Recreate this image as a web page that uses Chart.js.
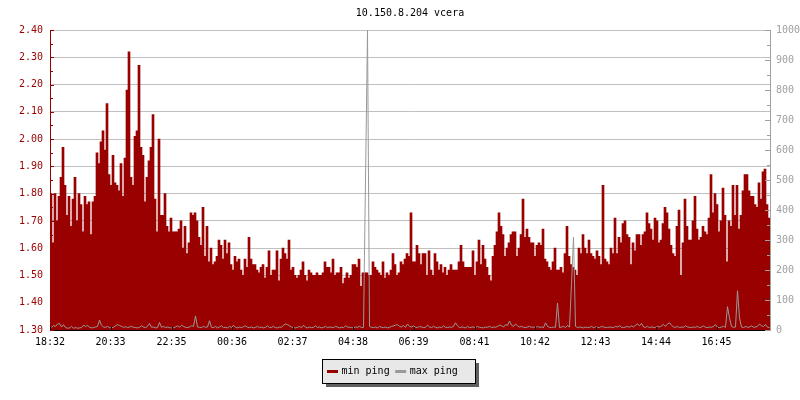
<!DOCTYPE html>
<html>
<head>
<meta charset="utf-8">
<title>10.150.8.204 vcera</title>
<script src="https://cdn.jsdelivr.net/npm/chart.js@4/dist/chart.umd.min.js"></script>
<style>
  html, body { margin: 0; padding: 0; background: #fff; }
  #wrap { width: 800px; height: 400px; }
</style>
</head>
<body>
<div id="wrap"><canvas id="myChart" width="800" height="400"></canvas></div>
<script>
var chartTitle = "10.150.8.204 vcera";
var seriesNames = ["min ping", "max ping"];

// tick labels on the time axis (first one is the start of the graph)
var timeLabels = ["18:32", "20:33", "22:35", "00:36", "02:37", "04:38",
                  "06:39", "08:41", "10:42", "12:43", "14:44", "16:45"];

// one sample every 4 minutes, 24 hours
var stepMinutes = 4;
var spanMinutes = 1440;

// min ping (left axis)
var minPing = [
  1.80, 1.62, 1.80, 1.70, 1.79, 1.86, 1.97, 1.83, 1.72, 1.79,
  1.68, 1.78, 1.86, 1.70, 1.80, 1.76, 1.66, 1.79, 1.76, 1.77,
  1.65, 1.77, 1.79, 1.95, 1.91, 1.99, 2.03, 1.96, 2.13, 1.87,
  1.83, 1.94, 1.84, 1.83, 1.81, 1.91, 1.79, 1.93, 2.18, 2.32,
  1.86, 1.83, 2.01, 2.03, 2.27, 1.97, 1.94, 1.77, 1.86, 1.92,
  1.97, 2.09, 1.78, 1.66, 2.00, 1.72, 1.72, 1.80, 1.68, 1.66,
  1.71, 1.66, 1.66,
  1.66, 1.67, 1.70, 1.60, 1.68, 1.58, 1.62, 1.73, 1.72, 1.73,
  1.70, 1.64, 1.61, 1.75, 1.57, 1.68, 1.55, 1.60, 1.54, 1.55,
  1.57, 1.63, 1.61, 1.56, 1.63, 1.58, 1.62, 1.54, 1.52, 1.57,
  1.55, 1.56, 1.52, 1.50, 1.56, 1.53, 1.64, 1.56, 1.54, 1.54,
  1.52, 1.51, 1.53, 1.54, 1.49, 1.53, 1.59, 1.50, 1.52, 1.52,
  1.59, 1.48, 1.56, 1.60, 1.58, 1.56, 1.63, 1.52, 1.53, 1.50,
  1.49, 1.50,
  1.52, 1.55, 1.50, 1.48, 1.52, 1.51, 1.50, 1.50, 1.51, 1.50,
  1.50, 1.51, 1.55, 1.53, 1.53, 1.51, 1.56, 1.50, 1.51, 1.51,
  1.53, 1.47, 1.49, 1.51, 1.49, 1.50, 1.54, 1.54, 1.53, 1.56,
  1.46, 1.51, 1.51, 1.51, 1.50, 1.50, 1.55, 1.53, 1.52, 1.51,
  1.50, 1.55, 1.49, 1.51, 1.50, 1.52, 1.58, 1.54, 1.50, 1.51,
  1.55, 1.54, 1.56, 1.58, 1.57, 1.73, 1.55, 1.55, 1.61, 1.58,
  1.54, 1.58, 1.58,
  1.50, 1.59, 1.52, 1.50, 1.58, 1.55, 1.52, 1.54, 1.51, 1.53,
  1.50, 1.52, 1.54, 1.52, 1.52, 1.52, 1.55, 1.61, 1.55, 1.53,
  1.53, 1.53, 1.53, 1.59, 1.50, 1.55, 1.63, 1.54, 1.61, 1.56,
  1.53, 1.50, 1.48, 1.57, 1.61, 1.66, 1.73, 1.68, 1.65, 1.57,
  1.60, 1.62, 1.65, 1.66, 1.66, 1.57, 1.60, 1.65, 1.78, 1.64,
  1.67, 1.64, 1.62, 1.62, 1.57, 1.61, 1.62, 1.61, 1.67, 1.56,
  1.55, 1.53,
  1.52, 1.55, 1.60, 1.52, 1.52, 1.53, 1.51, 1.58, 1.68, 1.57,
  1.54, 1.53, 1.52, 1.50, 1.60, 1.58, 1.65, 1.60, 1.58, 1.63,
  1.58, 1.57, 1.56, 1.59, 1.57, 1.54, 1.83, 1.56, 1.55, 1.54,
  1.60, 1.58, 1.71, 1.58, 1.64, 1.62, 1.69, 1.70, 1.65, 1.64,
  1.54, 1.62, 1.59, 1.65, 1.65, 1.61, 1.65, 1.66, 1.73, 1.69,
  1.67, 1.63, 1.71, 1.70, 1.62, 1.63, 1.69, 1.75, 1.73, 1.67,
  1.61, 1.58, 1.57,
  1.68, 1.74, 1.50, 1.62, 1.78, 1.68, 1.63, 1.63, 1.70, 1.79,
  1.67, 1.63, 1.64, 1.68, 1.66, 1.65, 1.71, 1.87, 1.73, 1.80,
  1.76, 1.66, 1.70, 1.82, 1.72, 1.55, 1.70, 1.68, 1.83, 1.72,
  1.83, 1.67, 1.72, 1.81, 1.87, 1.87, 1.81, 1.79, 1.79, 1.76,
  1.75, 1.84, 1.78, 1.88, 1.89, 1.76, 1.71
];

// max ping (right axis)
var maxPing = [
  8, 15, 12, 20, 22, 10, 18, 8, 6, 7, 12, 6, 8, 6, 7, 8, 16, 12, 15, 9,
  7, 8, 10, 12, 33, 16, 10, 9, 12, 8, 7, 9, 14, 18, 15, 12, 9, 11, 8, 10,
  12, 9, 8, 7, 9, 14, 10, 8, 12, 22, 9, 10, 7, 8, 25, 9, 12, 8, 10, 8,
  7, 8, 10, 14, 9, 16, 12, 9, 8, 10, 14, 12, 47, 10, 9, 8, 12, 9, 10, 31,
  9, 8, 12, 7, 10, 14, 8, 9, 7, 12, 8, 16, 9, 7, 10, 8, 11, 14, 9, 8,
  10, 7, 9, 12, 8, 10, 7, 9, 14, 8, 9, 12, 8, 7, 10, 9, 16, 20, 18, 14,
  10, 8, 7, 9, 12, 8, 16, 9, 7, 10, 8, 9, 14, 8, 10, 7, 9, 12, 8, 10,
  9, 8, 12, 10, 7, 9, 8, 14, 10, 9, 8, 7, 10, 9, 12, 8, 9, 500, 1000, 12,
  9, 8, 10, 7, 12, 9, 8, 10, 7, 9, 12, 14, 16, 18, 12, 10, 15, 9, 20, 12,
  10, 14, 9, 8, 12, 10, 8, 9, 16, 10, 8, 12, 9, 7, 10, 8, 14, 9, 8, 10,
  9, 12, 24, 14, 8, 10, 9, 7, 12, 8, 9, 10, 8, 12, 9, 8, 7, 10, 9, 12,
  8, 10, 9, 12, 16, 14, 10, 18, 15, 30, 16, 12, 20, 14, 10, 12, 9, 8, 10, 12,
  9, 10, 8, 12, 9, 10, 8, 24, 12, 9, 8, 10, 9, 90, 8, 10, 12, 8, 15, 10,
  155, 310, 12, 8, 10, 9, 7, 10, 8, 9, 12, 8, 10, 9, 8, 12, 10, 9, 8, 10,
  9, 8, 12, 10, 14, 9, 8, 10, 12, 9, 14, 10, 16, 20, 14, 22, 10, 9, 12, 8,
  10, 9, 8, 12, 10, 14, 18, 12, 20, 24, 16, 10, 9, 12, 8, 10, 9, 14, 10, 9,
  8, 10, 9, 12, 8, 10, 14, 9, 8, 10, 9, 12, 18, 9, 8, 10, 12, 9, 78, 40,
  12, 9, 10, 131, 40, 10, 8, 12, 9, 10, 14, 9, 10, 12, 20, 14, 12, 18, 9, 8
];

var RED = "#990000";
var GREY = "#999999";
var AXIS_GREY = "#a0a0a0";
var FONT_FAMILY = "'DejaVu Sans Mono', monospace";

// minutes from the start of the graph for each time label
function labelOffset(lbl) {
  var first = timeLabels[0].split(":");
  var p = lbl.split(":");
  var m = (+p[0] * 60 + +p[1]) - (+first[0] * 60 + +first[1]);
  if (m < 0) m += 1440;
  return m;
}
var tickMinutes = timeLabels.map(labelOffset);

function toPoints(values) {
  return values.map(function (v, i) {
    return { x: i * stepMinutes + stepMinutes / 2, y: v };
  });
}

function isMajor(v, step) {
  return Math.round(v * 1000) % Math.round(step * 1000) === 0;
}

// white paper, title, inner tick marks and the boxed legend
var paperPlugin = {
  id: "paper",
  beforeDraw: function (chart) {
    var c = chart.ctx;
    c.save();
    c.fillStyle = "#ffffff";
    c.fillRect(0, 0, chart.width, chart.height);
    c.restore();
  },
  // half pixel shift so the 1px line lands on whole pixels
  beforeDatasetDraw: function (chart, args) {
    if (args.meta.type === "line") {
      chart.ctx.save();
      chart.ctx.translate(0.5, 0);
    }
  },
  afterDatasetDraw: function (chart, args) {
    if (args.meta.type === "line") {
      chart.ctx.restore();
    }
  },
  afterDraw: function (chart) {
    var c = chart.ctx;
    var a = chart.chartArea;
    c.save();
    c.font = "10px " + FONT_FAMILY;

    // title
    c.fillStyle = "#000";
    c.textAlign = "center";
    c.textBaseline = "middle";
    c.fillText(chartTitle, (a.left + a.right) / 2, 13);

    // tick marks pointing into the plot
    c.lineWidth = 1;
    var ys = chart.scales.y;
    c.strokeStyle = RED;
    ys.ticks.forEach(function (t) {
      var py = Math.round(ys.getPixelForValue(t.value)) + 0.5;
      var len = isMajor(t.value, 0.1) ? 4 : 3;
      c.beginPath();
      c.moveTo(a.left, py);
      c.lineTo(a.left + len, py);
      c.stroke();
    });
    var ys2 = chart.scales.y1;
    c.strokeStyle = AXIS_GREY;
    ys2.ticks.forEach(function (t) {
      var py = Math.round(ys2.getPixelForValue(t.value)) + 0.5;
      var len = t.value % 100 === 0 ? 5 : 3;
      c.beginPath();
      c.moveTo(a.right - len, py);
      c.lineTo(a.right, py);
      c.stroke();
    });
    var xs = chart.scales.x;
    c.strokeStyle = "#000";
    xs.ticks.forEach(function (t) {
      var px = Math.round(xs.getPixelForValue(t.value)) + 0.5;
      c.beginPath();
      c.moveTo(px, a.bottom);
      c.lineTo(px, a.bottom - 3);
      c.stroke();
    });

    // legend box with drop shadow
    var boxL = 322, boxT = 359, boxW = 153, boxH = 24;
    c.fillStyle = "#606060";
    c.fillRect(boxL + 4, boxT + 4, boxW, boxH);
    c.fillStyle = "#e8e8e8";
    c.fillRect(boxL, boxT, boxW, boxH);
    c.strokeStyle = "#000";
    c.strokeRect(boxL + 0.5, boxT + 0.5, boxW, boxH);

    var cy = boxT + 12.5;
    var x = boxL + 5;
    c.textAlign = "left";
    c.textBaseline = "middle";
    chart.data.datasets.forEach(function (ds) {
      c.fillStyle = ds.type === "line" ? ds.borderColor : ds.backgroundColor;
      c.fillRect(x, cy - 1.5, 11, 3);
      c.fillStyle = "#000";
      c.fillText(ds.label, x + 14.5, cy);
      x += 14.5 + c.measureText(ds.label).width + 5.5;
    });
    c.restore();
  }
};

Chart.defaults.font.family = FONT_FAMILY;
Chart.defaults.font.size = 10;

var ctx = document.getElementById("myChart").getContext("2d");
var myChart = new Chart(ctx, {
  type: "bar",
  data: {
    datasets: [
      {
        type: "bar",
        label: seriesNames[0],
        data: toPoints(minPing),
        yAxisID: "y",
        backgroundColor: RED,
        borderWidth: 0,
        barPercentage: 1,
        categoryPercentage: 1,
        order: 1
      },
      {
        type: "line",
        label: seriesNames[1],
        data: toPoints(maxPing),
        yAxisID: "y1",
        borderColor: GREY,
        borderWidth: 1,
        pointRadius: 0,
        tension: 0,
        fill: false,
        order: 0
      }
    ]
  },
  options: {
    responsive: false,
    animation: false,
    devicePixelRatio: 1,
    layout: { padding: { top: 30, left: 0, right: 0, bottom: 0 } },
    plugins: {
      legend: { display: false },
      title: { display: false },
      tooltip: { enabled: false }
    },
    scales: {
      x: {
        type: "linear",
        min: 0,
        max: spanMinutes,
        offset: false,
        afterFit: function (s) { s.height = 70; },
        afterBuildTicks: function (s) {
          s.ticks = tickMinutes.map(function (m) { return { value: m }; });
        },
        grid: { display: true, drawOnChartArea: false, drawTicks: false, offset: false },
        border: { display: true, color: "#000", width: 1 },
        ticks: {
          autoSkip: false,
          maxRotation: 0,
          padding: 6,
          color: "#000",
          callback: function (value, index) { return timeLabels[index]; }
        }
      },
      y: {
        type: "linear",
        position: "left",
        min: 1.3,
        max: 2.4,
        afterFit: function (s) { s.width = 50; },
        grid: {
          drawTicks: false,
          color: function (c) {
            if (!c.tick) return "rgba(0,0,0,0)";
            return isMajor(c.tick.value, 0.1) ? "#c0c0c0" : "rgba(0,0,0,0)";
          }
        },
        border: { display: true, color: RED, width: 1 },
        ticks: {
          stepSize: 0.05,
          autoSkip: false,
          padding: 7,
          color: RED,
          callback: function (value) {
            return isMajor(value, 0.1) ? value.toFixed(2) : "";
          }
        }
      },
      y1: {
        type: "linear",
        position: "right",
        min: 0,
        max: 1000,
        afterFit: function (s) { s.width = 30; },
        grid: { drawOnChartArea: false, drawTicks: false },
        border: { display: true, color: AXIS_GREY, width: 1 },
        ticks: {
          stepSize: 50,
          autoSkip: false,
          padding: 6,
          color: AXIS_GREY,
          callback: function (value) {
            return value % 100 === 0 ? String(value) : "";
          }
        }
      }
    }
  },
  plugins: [paperPlugin]
});
</script>
</body>
</html>
